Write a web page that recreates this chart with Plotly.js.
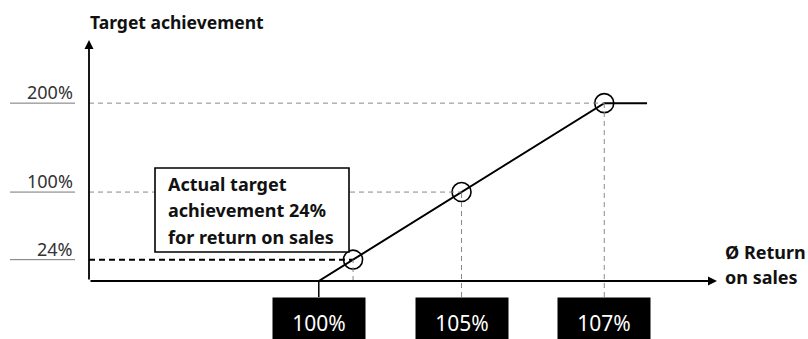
<!DOCTYPE html>
<html>
<head>
<meta charset="utf-8">
<script src="https://cdn.plot.ly/plotly-3.0.1.min.js"></script>
<style>html,body{margin:0;padding:0;background:#fff;}#chart{width:808px;height:339px;}</style>
</head>
<body>
<div id="chart"></div>
<script>
// ---- data (schematic axis: 100% -> 0, 105% -> 1, 107% -> 2) ----
const xTickLabels = ['100%', '105%', '107%'];
const xTickPos = [0, 1, 2];
const yTickLabels = ['24%', '100%', '200%'];
const yTickValues = [24, 100, 200];
const curveX = [0, 1, 2, 2.3];
const curveY = [0, 100, 200, 200];
const pointX = [0.24, 1, 2];
const pointY = [24, 100, 200];
const noteLines = ['Actual target', 'achievement 24%', 'for return on sales'];
const yTitle = 'Target achievement';
const xTitleLines = ['Ø Return', 'on sales'];

const xRange = [-1.61, 2.79];
const yRange = [0, 271];
const M = {l: 89, r: 91, t: 40, b: 58};
const W = 808, H = 339;
const plotW = W - M.l - M.r, plotH = H - M.t - M.b;
const pxX = p => p / plotW;   // pixel offset -> paper
const pxY = p => p / plotH;
const absX = p => (p - M.l) / plotW;        // absolute pixel -> paper
const absY = p => (H - M.b - p) / plotH;
const yPaper = v => (v - yRange[0]) / (yRange[1] - yRange[0]);
const FONT = '"Noto Sans", "Open Sans", sans-serif';
const boxTop = -pxY(16);

const traces = [
  {x: curveX, y: curveY, mode: 'lines', line: {color: '#000', width: 2}, hoverinfo: 'skip', cliponaxis: false},
  {x: pointX, y: pointY, mode: 'markers', marker: {symbol: 'circle-open', size: 19, color: '#000', line: {width: 1.6, color: '#000'}}, hoverinfo: 'skip', cliponaxis: false}
];

const shapes = [];
const annotations = [];

// guide lines from the points
pointX.forEach((px, i) => {
  const isActual = i === 0;
  shapes.push({type: 'line', xref: 'x', yref: 'y', x0: xRange[0], x1: px, y0: pointY[i], y1: pointY[i],
    line: {color: isActual ? '#000' : '#888', width: isActual ? 2 : 1, dash: isActual ? '6px,4px' : '5px,4px'}});
  shapes.push({type: 'line', xref: 'x', yref: 'paper', x0: px, x1: px, y0: isActual ? 0 : boxTop, y1: yPaper(pointY[i]),
    line: {color: '#888', width: 1, dash: '5px,4px'}});
});
// connector from the curve start to the first box
shapes.push({type: 'line', xref: 'x', yref: 'paper', x0: curveX[0], x1: curveX[0], y0: yPaper(curveY[0]), y1: boxTop,
  line: {color: '#000', width: 1.5}});

// note frame (white, covers the 100% guide)
shapes.push({type: 'rect', xref: 'paper', yref: 'paper', x0: absX(155), x1: absX(349), y0: absY(252), y1: absY(168),
  fillcolor: '#fff', line: {color: '#000', width: 1.6}, layer: 'above'});
noteLines.forEach((t, i) => {
  annotations.push({xref: 'paper', yref: 'paper', x: absX(166), y: absY(184 + i * 26.5), xanchor: 'left', yanchor: 'middle',
    text: '<b>' + t + '</b>', showarrow: false, font: {family: FONT, size: 18, color: '#111'}});
});

// y tick labels with grey underline
yTickValues.forEach((v, i) => {
  shapes.push({type: 'line', xref: 'paper', yref: 'paper', x0: -pxX(79), x1: -pxX(14), y0: yPaper(v), y1: yPaper(v),
    line: {color: '#777', width: 1}});
  annotations.push({xref: 'paper', yref: 'y', x: -pxX(14), y: v, xanchor: 'right', yanchor: 'bottom', yshift: -3,
    text: yTickLabels[i], showarrow: false, font: {family: FONT, size: 18, color: '#333'}});
});

// x tick labels in black boxes
xTickPos.forEach((p, i) => {
  annotations.push({xref: 'x', yref: 'paper', x: p, y: boxTop, xanchor: 'center', yanchor: 'top',
    text: xTickLabels[i], showarrow: false, bgcolor: '#000', width: 92, height: 50, borderpad: 0, valign: 'middle',
    font: {family: FONT, size: 21, color: '#fff'}});
});

// axes arrows
annotations.push({xref: 'x', yref: 'y', axref: 'x', ayref: 'y', x: xRange[1], y: yRange[0], ax: xRange[0], ay: yRange[0],
  text: '', showarrow: true, arrowhead: 2, arrowsize: 1, arrowwidth: 1.8, arrowcolor: '#000', standoff: 0});
annotations.push({xref: 'x', yref: 'y', axref: 'x', ayref: 'y', x: xRange[0], y: yRange[1], ax: xRange[0], ay: yRange[0],
  text: '', showarrow: true, arrowhead: 2, arrowsize: 1, arrowwidth: 1.8, arrowcolor: '#000', standoff: 0});

// axis titles
annotations.push({xref: 'paper', yref: 'paper', x: 0, y: 1, xanchor: 'left', yanchor: 'middle', xshift: -1, yshift: 18,
  text: '<b>' + yTitle + '</b>', showarrow: false, font: {family: FONT, size: 17.5, color: '#111'}});
xTitleLines.forEach((t, i) => {
  annotations.push({xref: 'paper', yref: 'paper', x: 1, y: absY(252 + i * 25), xanchor: 'left', yanchor: 'middle', xshift: 6,
    text: '<b>' + t + '</b>', showarrow: false, font: {family: FONT, size: 18, color: '#111'}});
});

const layout = {
  width: W, height: H, margin: M, paper_bgcolor: '#fff', plot_bgcolor: 'rgba(0,0,0,0)', showlegend: false,
  xaxis: {range: xRange, visible: false, fixedrange: true},
  yaxis: {range: yRange, visible: false, fixedrange: true},
  shapes: shapes, annotations: annotations
};
Plotly.newPlot('chart', traces, layout, {staticPlot: true, displayModeBar: false});
</script>
</body>
</html>
